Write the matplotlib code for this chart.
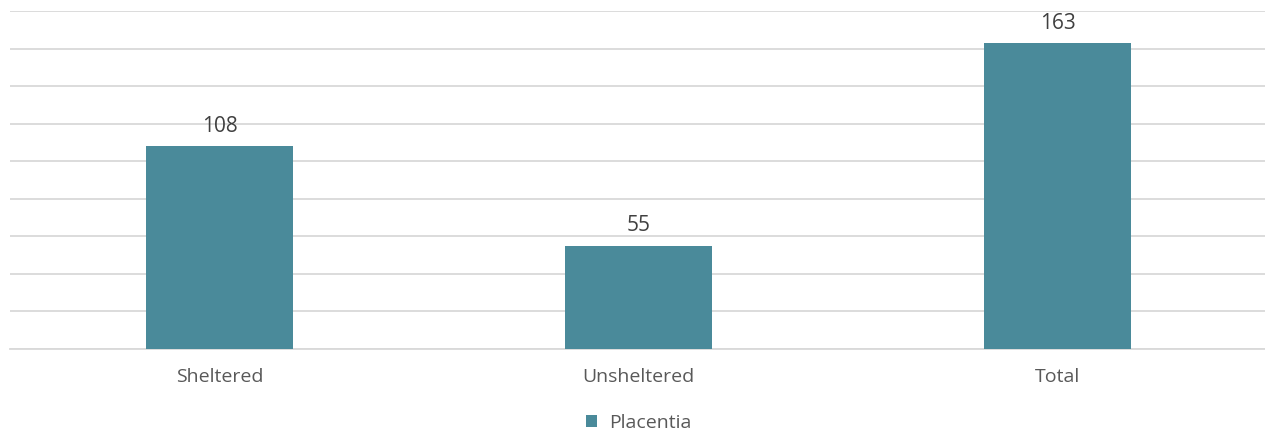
import numpy as np
import matplotlib.pyplot as plt

categories = ["Sheltered", "Unsheltered", "Total"]
values = [108, 55, 163]
series_name = "Placentia"

plt.rcParams['font.family'] = ['Open Sans', 'DejaVu Sans']

fig = plt.figure(figsize=(12.65, 4.34), dpi=100)
ax = fig.add_axes([10/1265, 1-349/434, 1257/1265, 338/434])

x = np.arange(len(categories))
bars = ax.bar(x, values, width=0.353, color="#4a8a9a", label=series_name, zorder=3)
for b, v in zip(bars, values):
    ax.text(b.get_x() + b.get_width()/2, v + 5, str(v), ha="center", va="bottom",
            fontsize=15, color="#404040")

ax.set_ylim(0, 180)
ax.set_xlim(-0.5, 2.5)
ax.set_yticks(np.arange(0, 181, 20))
ax.set_yticklabels([])
ax.tick_params(axis="y", length=0)
ax.tick_params(axis="x", length=0, pad=14, labelsize=14, labelcolor="#595959")
ax.set_xticks(x)
ax.set_xticklabels(categories)
ax.grid(axis="y", color="#d9d9d9", linewidth=1.3, zorder=0)
for s in ["top", "right", "left"]:
    ax.spines[s].set_visible(False)
ax.spines["bottom"].set_color("#d9d9d9")
ax.spines["bottom"].set_linewidth(1.3)

leg = ax.legend(loc="center", bbox_to_anchor=(0.5, -0.219), frameon=False,
                fontsize=14, handlelength=0.6, handleheight=0.6, handletextpad=0.6)
for t in leg.get_texts():
    t.set_color("#595959")

fig.savefig("out.png", dpi=100)
